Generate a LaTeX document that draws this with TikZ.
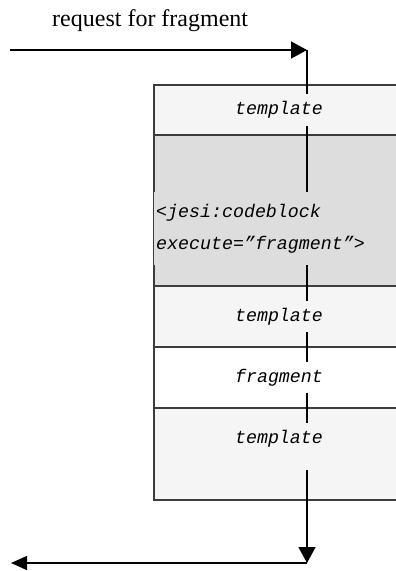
\documentclass[tikz,border=0pt]{standalone}
\usepackage{fontspec}
\setmainfont{Liberation Serif}
\newfontfamily\lblfont{Liberation Mono}
\usetikzlibrary{positioning,arrows.meta}

\definecolor{tplgray}{RGB}{245,245,245}
\definecolor{codegray}{RGB}{221,221,221}
\definecolor{rowline}{RGB}{60,60,60}

\begin{document}
\begin{tikzpicture}[
		x=1pt, y=-1pt,
		row/.style={draw=rowline, line width=1.5pt, minimum width=250pt, inner sep=0pt, outer sep=0pt},
		lbl/.style={font=\lblfont\itshape\fontsize{18.3}{32}\selectfont, inner sep=7pt},
		arr/.style={-{Triangle[length=16pt,width=17pt]}, line width=1.5pt}
		]
		\useasboundingbox (0,0) rectangle (396,571);
		
		\node[row, fill=tplgray, minimum height=50pt, anchor=north west] (r1) at (154,85) {};
		\node[row, fill=codegray, minimum height=151pt, below=0pt of r1] (r2) {};
		\node[row, fill=tplgray, minimum height=61pt, below=0pt of r2] (r3) {};
		\node[row, fill=white, minimum height=61pt, below=0pt of r3] (r4) {};
		\node[row, fill=tplgray, minimum height=92pt, below=0pt of r4] (r5) {};
		
		\node[font=\fontsize{24}{28}\selectfont, inner sep=0pt, anchor=base west] (req) at (52,26) {request for fragment};
		
		\coordinate (in) at (10,50);
		\coordinate (top) at (307,50);
		\coordinate (bot) at (307,563);
		\coordinate (out) at (11,563);
		
		\draw[arr] (in) -- (top);
		\draw[arr] (top) -- (bot);
		\draw[arr, -{Triangle[length=16pt,width=14pt]}] (bot) -- (out);
		
		\node[lbl, fill=tplgray] (t1) at (r1) {template};
		\node[lbl, fill=codegray, align=left, inner xsep=2pt, inner ysep=12pt, right=0pt of r2.west, yshift=-18pt] (cb) {<jesi:codeblock\\execute=”fragment”>};
		\node[lbl, fill=tplgray] (t2) at (r3) {template};
		\node[lbl, fill=white] (fr) at (r4) {fragment};
		\node[lbl, fill=tplgray, text depth=20pt, below=15pt of r5.north] (t3) {template};
	\end{tikzpicture}
\end{document}
